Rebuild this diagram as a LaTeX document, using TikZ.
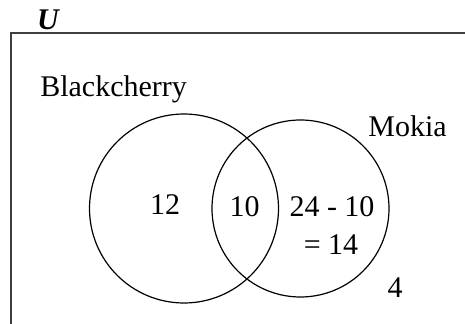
\documentclass[tikz,border=0pt]{standalone}
\usepackage{fontspec}
\setmainfont{Liberation Serif}
\begin{document}
\begin{tikzpicture}[x=0.75pt,y=-0.75pt,
  lbl/.style={inner sep=0pt,anchor=base,font=\fontsize{22.5}{27}\selectfont},
  setcircle/.style={draw=black,line width=0.9pt},
  universe/.style={draw=black!75,line width=1.5pt}]
\useasboundingbox (0,0) rectangle (465,324);
\begin{scope}
\clip (0,0) rectangle (465,324);
\draw[universe] (11,33) rectangle (480,340);
\end{scope}
\node[lbl,font=\fontsize{22.5}{27}\selectfont\bfseries\itshape] (u) at (48,30) {U};
\draw[setcircle] (184,208.5) circle (94.5);
\draw[setcircle] (300.5,208.5) circle (88.5);
\node[lbl,anchor=base west] (bc) at (40,97) {Blackcherry};
\node[lbl] (mk) at (407.5,137) {Mokia};
\node[lbl] (a) at (165,215) {12};
\node[lbl] (ab) at (244.5,217) {10};
\node[lbl] (b1) at (332,217) {24 - 10};
\node[lbl] (b2) at (331,255) {= 14};
\node[lbl] (out) at (395,298) {4};
\end{tikzpicture}
\end{document}
